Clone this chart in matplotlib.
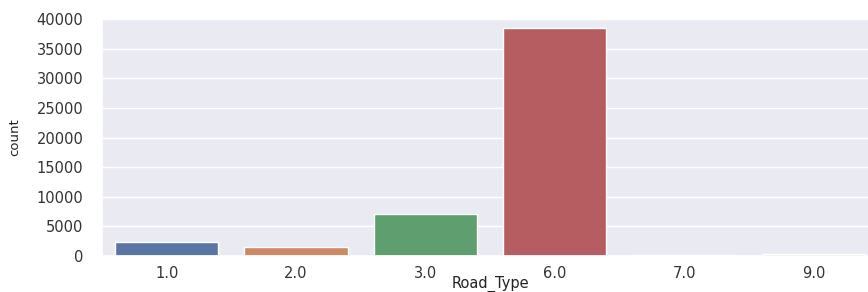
import matplotlib
matplotlib.use("Agg")
import matplotlib.pyplot as plt
import seaborn as sns

categories = ["1.0", "2.0", "3.0", "6.0", "7.0", "9.0"]
counts = [2300, 1500, 7150, 38450, 200, 300]
yticks = [0, 5000, 10000, 15000, 20000, 25000, 30000, 35000, 40000]

sns.set_theme(style="darkgrid")
plt.rcParams['font.family'] = ['DejaVu Sans']

base = sns.color_palette("deep", len(categories))
colors = [sns.desaturate(c, 0.75) for c in base]

fig = plt.figure(figsize=(8.68, 2.92), dpi=100)
ax = fig.add_axes([102/868, 36/292, 776/868, 237/292])
x = list(range(len(categories)))
ax.bar(x, counts, width=0.8, color=colors, edgecolor="white", linewidth=1.0)
ax.set_xticks(x)
ax.set_xticklabels(categories)
ax.set_xlim(-0.5, len(categories) - 0.5)
ax.set_ylim(0, 40000)
ax.set_yticks(yticks)
ax.set_yticklabels([str(v) for v in yticks])
ax.tick_params(axis='y', labelsize=10.5, pad=7.5, labelcolor='#333333')
ax.tick_params(axis='x', labelsize=10.5, pad=1, labelcolor='#333333')
ax.set_xlabel("Road_Type", fontsize=10.5, color='#222222')
ax.set_ylabel("count", fontsize=9.5, color='#222222')
ax.xaxis.set_label_coords(0.5, -0.082)
ax.yaxis.set_label_coords(-0.104, 0.5)
ax.xaxis.grid(False)

fig.savefig("out.png", dpi=100)
